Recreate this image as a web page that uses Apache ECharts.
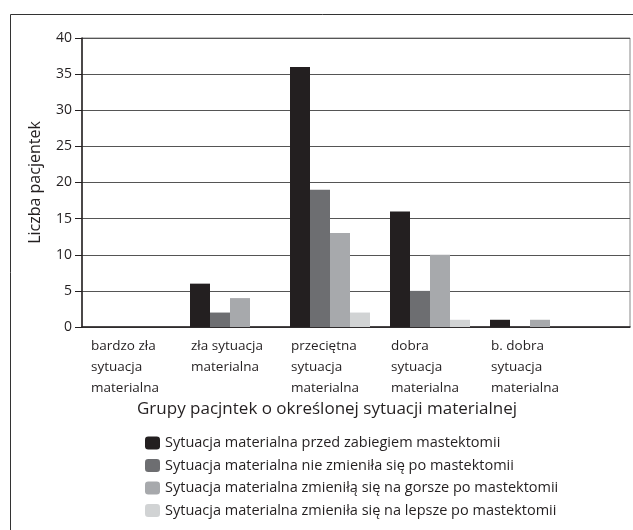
<!DOCTYPE html>
<html>
<head>
<meta charset="utf-8">
<script src="https://cdn.jsdelivr.net/npm/echarts@6/dist/echarts.min.js"></script>
<style>
  * { margin: 0; padding: 0; }
  body { background: #fff; }
</style>
</head>
<body>
<div id="main" style="width:633px;height:530px;background:white;"></div>
<script>
// kategorie
var categories = [
  "bardzo zła\nsytuacja\nmaterialna",
  "zła sytuacja\nmaterialna",
  "przeciętna\nsytuacja\nmaterialna",
  "dobra\nsytuacja\nmaterialna",
  "b. dobra\nsytuacja\nmaterialna"
];
var seriesNames = [
  "Sytuacja materialna przed zabiegiem mastektomii",
  "Sytuacja materialna nie zmieniła się po mastektomii",
  "Sytuacja materialna zmieniłą się na gorsze po mastektomii",
  "Sytuacja materialna zmieniła się na lepsze po mastektomii"
];
var przed = [0, 6, 36, 16, 1];
var bezZmian = [0, 2, 19, 5, 0];
var gorsze = [0, 4, 13, 10, 1];
var lepsze = [0, 0, 2, 1, 0];
var colors = ["#231f20", "#6d6e71", "#a7a9ac", "#d1d3d4"];

var font = "Open Sans";
var chart = echarts.init(document.getElementById("main"));

var data = [przed, bezZmian, gorsze, lepsze];
var series = data.map(function (vals, i) {
  return {
    name: seriesNames[i],
    type: "bar",
    xAxisIndex: 1,
    yAxisIndex: 1,
    data: vals,
    barGap: "0%",
    barCategoryGap: "20%",
    itemStyle: { color: colors[i] },
    animation: false
  };
});

chart.setOption({
  animation: false,
  textStyle: { fontFamily: font },
  title: {
    text: "Grupy pacjntek o określonej sytuacji materialnej",
    left: 137,
    top: 401,
    padding: 0,
    textStyle: { fontFamily: font, fontSize: 17, fontWeight: "normal", color: "#231f20" }
  },
  legend: {
    orient: "vertical",
    left: 145,
    top: 435.5,
    padding: 0,
    itemWidth: 15,
    itemHeight: 13,
    itemGap: 7.5,
    data: seriesNames,
    textStyle: { fontFamily: font, fontSize: 14.5, lineHeight: 14.5, color: "#231f20" }
  },
  graphic: [
    {
      type: "rect",
      shape: { x: 10.5, y: 14.5, width: 700, height: 600 },
      style: { fill: "none", stroke: "#333", lineWidth: 1 },
      silent: true
    }
  ],
  grid: [
    { left: 82, top: 38, right: 3, bottom: 203, show: true, borderColor: "#888", borderWidth: 1 },
    { left: 80, top: 38, width: 500, bottom: 203 },
    { left: 41, top: 38, width: 500, bottom: 203 }
  ],
  xAxis: [
    {
      gridIndex: 0,
      type: "value",
      min: 0,
      max: 1,
      axisLine: { show: true, onZero: false, lineStyle: { color: "#231f20", width: 1.5 } },
      axisTick: { show: false },
      axisLabel: { show: false },
      splitLine: { show: false }
    },
    {
      gridIndex: 1,
      type: "category",
      data: categories,
      axisLine: { show: false },
      axisTick: { show: false },
      axisLabel: { show: false }
    },
    {
      gridIndex: 2,
      type: "category",
      data: categories,
      axisLine: { show: false },
      axisTick: { show: false },
      axisLabel: {
        align: "left",
        margin: 9,
        fontFamily: font,
        fontSize: 13.5,
        lineHeight: 21,
        color: "#231f20"
      }
    }
  ],
  yAxis: [
    {
      gridIndex: 0,
      type: "value",
      min: 0,
      max: 40,
      interval: 5,
      name: "Liczba pacjentek",
      nameLocation: "middle",
      nameRotate: 90,
      nameGap: 39,
      nameTextStyle: { fontFamily: font, fontSize: 16, color: "#231f20" },
      axisLine: { show: true, lineStyle: { color: "#231f20", width: 1.5 } },
      axisTick: { show: true, length: 7, lineStyle: { color: "#231f20" } },
      axisLabel: { margin: 10, fontFamily: font, fontSize: 14, color: "#231f20" },
      splitLine: { show: true, lineStyle: { color: "#555", width: 1 } }
    },
    {
      gridIndex: 1,
      type: "value",
      min: 0,
      max: 40,
      interval: 5,
      show: false
    },
    {
      gridIndex: 2,
      type: "value",
      min: 0,
      max: 40,
      interval: 5,
      show: false
    }
  ],
  series: series
});
</script>
</body>
</html>
